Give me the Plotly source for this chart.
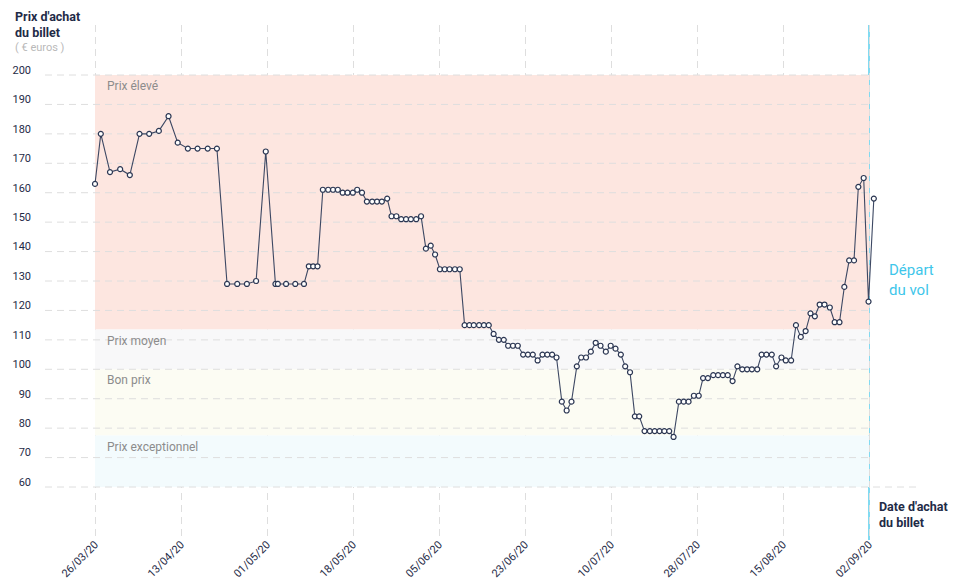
import plotly.graph_objects as go

# ---- data (x = days since 26/03/20, y = ticket price in euros) ----
days = [0.0, 1.2, 3.1, 5.2, 7.2, 9.2, 11.2, 13.2, 15.2, 17.1,
        19.2, 21.2, 23.3, 25.2, 27.3, 29.4, 31.4, 33.3, 35.3, 37.3,
        37.8, 39.5, 41.4, 43.2, 44.2, 45.1, 46.0, 47.1, 48.2, 49.2,
        50.2, 51.2, 52.2, 53.3, 54.2, 55.2, 56.2, 57.3, 58.3, 59.3,
        60.4, 61.3, 62.3, 63.3, 64.3, 65.3, 66.4, 67.4, 68.4, 69.4,
        70.3, 71.3, 72.3, 73.3, 74.4, 75.4, 76.4, 77.4, 78.3, 79.4,
        80.4, 81.4, 82.4, 83.5, 84.5, 85.4, 86.4, 87.4, 88.5, 89.5,
        90.5, 91.5, 92.5, 93.5, 94.5, 95.4, 96.5, 97.5, 98.5, 99.6,
        100.5, 101.5, 102.5, 103.5, 104.5, 105.6, 106.6, 107.6, 108.7, 109.6,
        110.6, 111.6, 112.5, 113.6, 114.7, 115.7, 116.7, 117.7, 118.7, 119.6,
        120.7, 121.7, 122.7, 123.8, 124.8, 125.7, 126.7, 127.8, 128.8, 129.8,
        130.8, 131.8, 132.8, 133.8, 134.8, 135.8, 136.9, 137.8, 138.8, 139.9,
        140.8, 141.9, 142.8, 143.9, 144.9, 145.9, 146.9, 147.9, 148.8, 149.8,
        150.8, 151.9, 152.9, 153.9, 154.9, 155.9, 156.9, 157.8, 158.9, 159.9,
        161.0]
prices = [163, 180, 167, 168, 166, 180, 180, 181, 186, 177,
          175, 175, 175, 175, 129, 129, 129, 130, 174, 129,
          129, 129, 129, 129, 135, 135, 135, 161, 161, 161,
          161, 160, 160, 160, 161, 160, 157, 157, 157, 157,
          158, 152, 152, 151, 151, 151, 151, 152, 141, 142,
          139, 134, 134, 134, 134, 134, 115, 115, 115, 115,
          115, 115, 112, 110, 110, 108, 108, 108, 105, 105,
          105, 103, 105, 105, 105, 104, 89, 86, 89, 101,
          104, 104, 106, 109, 108, 106, 108, 107, 105, 101,
          99, 84, 84, 79, 79, 79, 79, 79, 79, 77,
          89, 89, 89, 91, 91, 97, 97, 98, 98, 98,
          98, 96, 101, 100, 100, 100, 100, 105, 105, 105,
          101, 104, 103, 103, 115, 111, 113, 119, 118, 122,
          122, 121, 116, 116, 128, 137, 137, 162, 165, 123,
          158]

tick_labels = ["26/03/20", "13/04/20", "01/05/20", "18/05/20", "05/06/20",
               "23/06/20", "10/07/20", "28/07/20", "15/08/20", "02/09/20"]
departure_day = 160
y_ticks = list(range(60, 201, 10))

band_names = ["Prix élevé", "Prix moyen", "Bon prix", "Prix exceptionnel"]
band_tops = [200, 113.5, 100, 77.5]
band_bottoms = [113.5, 100, 77.5, 60]
band_colors = ["#fde6e0", "#f8f8f9", "#fcfcf3", "#f3fbfd"]

# ---- styling ----
NAVY = "#1f2b47"
GRID = "#dedede"
CYAN = "#3ec6ea"
FONT = "Roboto"

# the page body has an 8px margin, so the figure is drawn from (8, 8)
OFF = 8
W, H = 958 - OFF, 585 - OFF
ML, MT = 45 - OFF, 25 - OFF
MR = 958 - 919
MB = 585 - 540
PW, PH = W - ML - MR, H - MT - MB

tick_vals = [i * departure_day / (len(tick_labels) - 1) for i in range(len(tick_labels))]
x_min, x_max = -10.336, 170.336
y_min, y_max = 41.99, 216.99

fig = go.Figure()
fig.add_trace(go.Scatter(
    x=days, y=prices, mode="lines+markers",
    line=dict(color="#3d4863", width=1.1),
    marker=dict(size=5, color="white", line=dict(color="#2b3652", width=1.2)),
    hoverinfo="x+y", showlegend=False,
))

shapes = []
for top, bot, col in zip(band_tops, band_bottoms, band_colors):
    shapes.append(dict(type="rect", xref="x", yref="y", x0=0, x1=departure_day,
                       y0=bot, y1=top, fillcolor=col, line=dict(width=0),
                       layer="between"))
for v in y_ticks:
    shapes.append(dict(type="line", xref="x", yref="y", x0=x_min,
                       x1=(x_max if v == y_ticks[0] else departure_day),
                       y0=v, y1=v, line=dict(color=GRID, width=1, dash="7px,5px"),
                       layer="between"))
shapes.append(dict(type="line", xref="x", yref="paper", x0=departure_day, x1=departure_day,
                   y0=0, y1=1, line=dict(color=CYAN, width=1.3), layer="between"))

annotations = []
for name, top in zip(band_names, band_tops):
    annotations.append(dict(x=2.1, y=top, xref="x", yref="y", text=name,
                            showarrow=False, xanchor="left", yanchor="top", yshift=-2,
                            font=dict(family=FONT, size=12, color="#8c8c8c")))


# helpers converting window pixels to paper coordinates
def px_x(p):
    return (p - OFF - ML) / PW


def px_y(p):
    return (H - MB - (p - OFF)) / PH


annotations += [
    dict(x=px_x(13), y=px_y(7), xref="paper", yref="paper", xanchor="left", yanchor="top",
         text="<b>Prix d'achat<br>du billet</b>", showarrow=False, align="left",
         font=dict(family=FONT, size=12.5, color=NAVY)),
    dict(x=px_x(13), y=px_y(39), xref="paper", yref="paper", xanchor="left", yanchor="top",
         text="( € euros )", showarrow=False, align="left",
         font=dict(family=FONT, size=11, color="#b9b9b9")),
    dict(x=px_x(877), y=px_y(497), xref="paper", yref="paper", xanchor="left", yanchor="top",
         text="<b>Date d'achat<br>du billet</b>", showarrow=False, align="left",
         font=dict(family=FONT, size=12.5, color=NAVY)),
    dict(x=px_x(887), y=px_y(259), xref="paper", yref="paper", xanchor="left", yanchor="top",
         text="Départ<br>du vol", showarrow=False, align="left",
         font=dict(family=FONT, size=15, color=CYAN)),
]

fig.update_layout(
    width=W, height=H,
    margin=dict(l=ML, r=MR, t=MT, b=MB, autoexpand=False),
    paper_bgcolor="white", plot_bgcolor="white",
    font=dict(family=FONT, size=11, color=NAVY),
    xaxis=dict(range=[x_min, x_max], tickvals=tick_vals, ticktext=tick_labels,
               tickangle=-45, showgrid=True, gridcolor=GRID, griddash="7px,5px",
               gridwidth=1, zeroline=False, showline=False, ticks="", automargin=False,
               ticklabelstandoff=-5,
               tickfont=dict(family=FONT, size=11, color=NAVY)),
    yaxis=dict(range=[y_min, y_max], tickvals=y_ticks, showgrid=False, zeroline=False,
               showline=False, ticks="", ticklabelstandoff=13, ticklabelshift=-5,
               automargin=False,
               tickfont=dict(family=FONT, size=11, color=NAVY)),
    shapes=shapes,
    annotations=annotations,
)

fig.write_html("out.html")
